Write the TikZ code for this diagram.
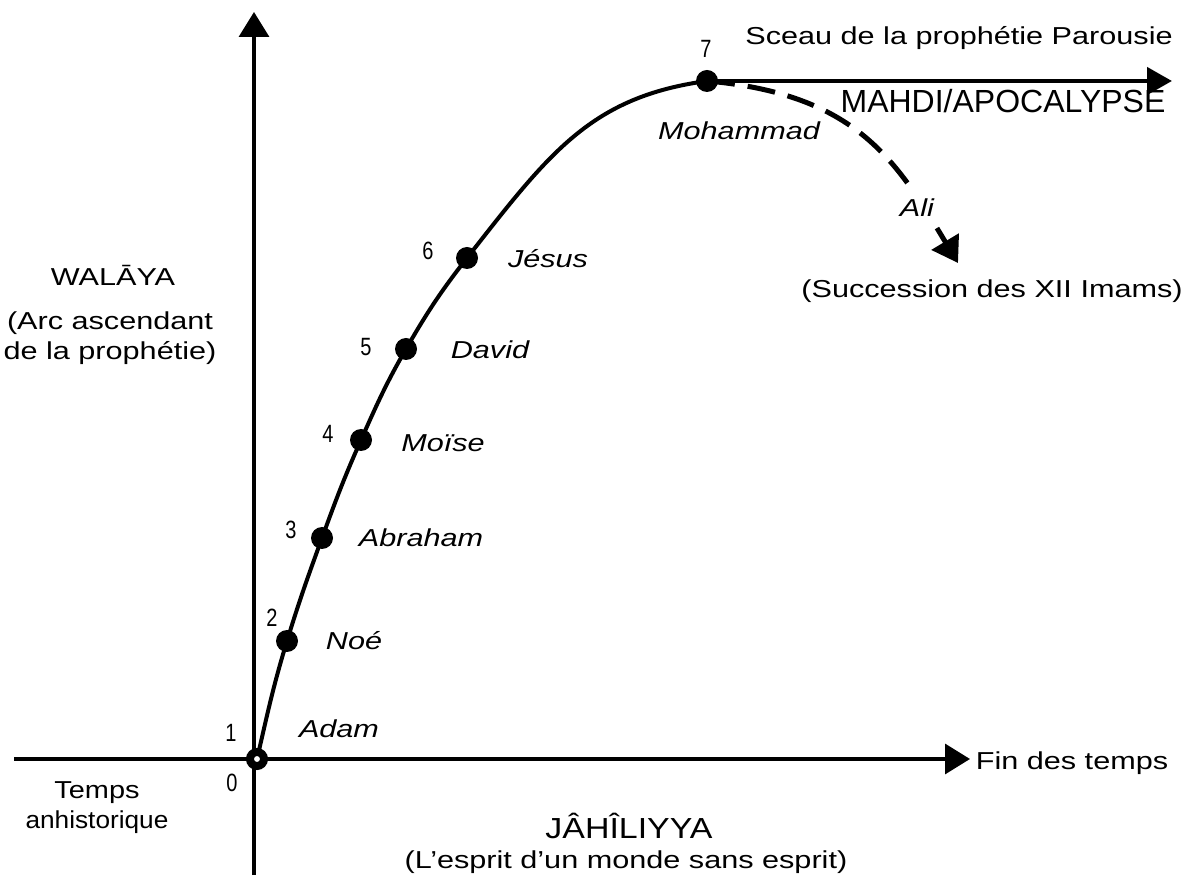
\documentclass[tikz,border=0pt]{standalone}
\usepackage{graphicx}
\usepackage{fontspec}
\setmainfont{Liberation Sans}
\usetikzlibrary{arrows.meta}
\newcommand{\sx}[1]{\scalebox{1.25}[1]{#1}}
\newcommand{\nx}[1]{\scalebox{0.8}[1]{#1}}
\begin{document}
\begin{tikzpicture}[x=1pt,y=1pt,
  lbl/.style={font=\fontsize{24.5}{29}\selectfont, inner sep=0pt, anchor=base},
  nm/.style={font=\fontsize{24.5}{29}\selectfont\itshape, inner sep=0pt, anchor=base},
  num/.style={font=\fontsize{25}{29}\selectfont, inner sep=0pt, anchor=base},
  dotb/.style={circle, fill=black, minimum size=22pt, inner sep=0pt},
  ring/.style={circle, draw=black, fill=white, line width=8pt, minimum size=14pt, inner sep=0pt},
  axis/.style={line width=3.3pt, -{Triangle[length=25pt,width=30pt]}},
  curve/.style={line width=4pt},
  toparr/.style={line width=4.5pt, -{Triangle[length=25pt,width=27pt]}},
  dasharr/.style={line width=5pt, dash pattern=on 28pt off 13pt, -{Triangle[length=25pt,width=31pt]}}]
\useasboundingbox (0,0) rectangle (1192,879);
% axes
\coordinate (hl) at (14,120);
\coordinate (hr) at (970,120);
\coordinate (vb) at (254,4);
\coordinate (vt) at (254,867);
\draw[axis] (hl) -- (hr);
\draw[axis] (vb) -- (vt);
% points of the arc
\coordinate (c1) at (257,120);
\coordinate (c2) at (287,238);
\coordinate (c3) at (322,341);
\coordinate (c4) at (361,439);
\coordinate (c5) at (406,530);
\coordinate (c6) at (467,621);
\coordinate (c7) at (707,798);
\coordinate (topend) at (1172,798);
\coordinate (dtip) at (958,616);
\draw[curve] (c1) to[out=77,in=253] (c2) to[out=73,in=250] (c3) to[out=70,in=246] (c4)
  to[out=66,in=240] (c5) to[out=60,in=232] (c6) .. controls (550,727) and (591,782) .. (c7);
\draw[toparr] (c7) -- (topend);
\draw[dasharr] (c7) .. controls (856,785) and (896,719) .. (dtip);
% dots
\node[ring] (p1) at (c1) {};
\node[dotb] (p2) at (c2) {};
\node[dotb] (p3) at (c3) {};
\node[dotb] (p4) at (c4) {};
\node[dotb] (p5) at (c5) {};
\node[dotb] (p6) at (c6) {};
\node[dotb] (p7) at (c7) {};
% numbers
\node[num] (n1) at (231,138) {\nx{1}};
\node[num] (n0) at (232,88) {\nx{0}};
\node[num] (n2) at (272,252) {\nx{2}};
\node[num] (n3) at (291,340) {\nx{3}};
\node[num] (n4) at (328,436) {\nx{4}};
\node[num] (n5) at (366,523) {\nx{5}};
\node[num] (n6) at (428,619) {\nx{6}};
\node[num] (n7) at (706,821) {\nx{7}};
% names
\node[nm] (adam) at (339,142) {\sx{Adam}};
\node[nm] (noe) at (354,229) {\sx{Noé}};
\node[nm] (abraham) at (421,332) {\sx{Abraham}};
\node[nm] (moise) at (443,427) {\sx{Moïse}};
\node[nm] (david) at (490,520) {\sx{David}};
\node[nm] (jesus) at (548,611) {\sx{Jésus}};
\node[nm] (mohammad) at (739,739) {\sx{Mohammad}};
\node[nm, fill=white, inner xsep=2pt, inner ysep=9pt] (ali) at (917,662) {\sx{Ali}};
% other labels
\node[lbl] (sceau) at (959,834) {\sx{Sceau de la prophétie Parousie}};
\node[lbl, font=\fontsize{32}{36}\selectfont] (mahdi) at (1003,766) {MAHDI/APOCALYPSE};
\node[lbl] (succ) at (992,581) {\sx{(Succession des XII Imams)}};
\node[lbl] (walaya) at (113,593) {\sx{WALĀYA}};
\node[lbl] (arc1) at (110,549) {\sx{(Arc ascendant}};
\node[lbl] (arc2) at (110,519) {\sx{de la prophétie)}};
\node[lbl] (temps1) at (97,81) {\scalebox{1.18}[1]{Temps}};
\node[lbl] (temps2) at (97,51) {\scalebox{1.07}[1]{anhistorique}};
\node[lbl, font=\fontsize{29}{33}\selectfont] (jahil) at (629,41) {\scalebox{1.17}[1]{JÂHÎLIYYA}};
\node[lbl] (esprit) at (626,11) {\sx{(L’esprit d’un monde sans esprit)}};
\node[lbl] (fin) at (1072,110) {\sx{Fin des temps}};
\end{tikzpicture}
\end{document}
